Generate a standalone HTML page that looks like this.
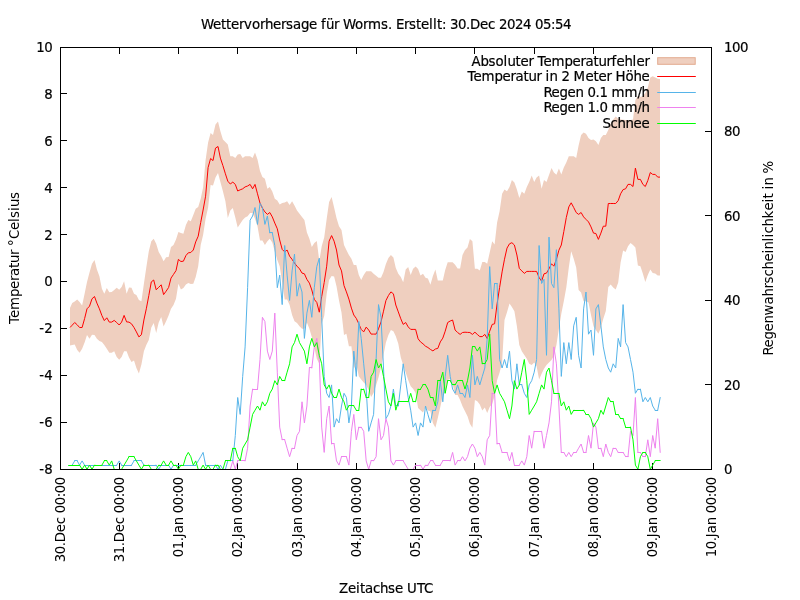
<!DOCTYPE html>
<html lang="de"><head><meta charset="utf-8"><title>Wettervorhersage für Worms</title>
<style>
html,body{margin:0;padding:0;background:#fff;}
body{width:800px;height:600px;overflow:hidden;}
svg{display:block;}
text{font-family:"DejaVu Sans","Liberation Sans",sans-serif;font-size:13.333px;fill:#000;white-space:pre;}
.h{stroke:#000;stroke-width:0.2px;}
</style></head><body>
<svg width="800" height="600" viewBox="0 0 800 600">
<rect width="800" height="600" fill="#fff"/>
<polygon points="70.0,308.1 72.2,303.1 74.7,301.5 77.2,299.4 79.6,302.0 82.1,305.6 84.6,293.8 87.0,281.9 89.5,272.5 92.0,263.8 94.5,260.0 96.9,269.4 99.4,276.2 101.9,288.8 104.3,293.8 106.8,288.1 109.3,292.2 111.7,291.9 114.2,290.0 116.7,287.8 119.2,289.8 121.6,286.9 124.1,281.2 126.6,293.8 129.0,287.5 131.5,287.8 134.0,293.8 136.4,295.0 138.9,300.0 141.4,301.2 143.9,283.8 146.3,267.5 148.8,251.2 151.3,241.2 153.7,238.8 156.2,243.8 158.7,251.9 161.2,256.2 163.6,261.2 166.1,257.2 168.6,256.9 171.0,246.9 173.5,245.0 176.0,239.4 178.4,231.9 180.9,233.1 183.4,233.8 185.9,225.0 188.3,220.0 190.8,221.2 193.3,215.0 195.7,208.8 198.2,206.9 200.7,198.8 203.1,187.5 205.6,160.0 208.1,142.5 210.6,133.1 213.0,135.0 215.5,124.4 218.0,121.5 220.4,131.2 222.9,139.4 225.4,141.9 227.8,144.4 230.3,156.2 232.8,156.2 235.3,158.1 237.7,154.4 240.2,154.1 242.7,158.1 245.1,156.2 247.6,156.2 250.1,156.2 252.6,158.1 255.0,152.5 257.5,159.4 260.0,170.9 262.4,176.9 264.9,178.8 267.4,188.8 269.8,186.9 272.3,191.6 274.8,198.8 277.3,200.6 279.7,204.4 282.2,203.1 284.7,202.5 287.1,201.2 289.6,205.0 292.1,201.2 294.5,205.6 297.0,210.6 299.5,213.8 302.0,216.9 304.4,220.0 306.9,232.5 309.4,238.8 311.8,246.9 314.3,243.1 316.8,241.0 319.3,261.2 321.7,246.2 324.2,237.5 326.7,218.8 329.1,201.9 331.6,196.9 334.1,207.5 336.5,218.1 339.0,226.2 341.5,230.0 344.0,245.0 346.4,250.0 348.9,255.0 351.4,258.8 353.8,265.0 356.3,265.0 358.8,275.0 361.2,280.0 363.7,275.0 366.2,271.2 368.7,271.2 371.1,271.2 373.6,273.8 376.1,275.8 378.5,277.7 381.0,277.7 383.5,271.9 385.9,264.1 388.4,258.1 390.9,255.0 393.4,257.5 395.8,268.1 398.3,273.8 400.8,276.9 403.2,282.2 405.7,269.4 408.2,266.9 410.7,275.0 413.1,268.8 415.6,266.5 418.1,269.1 420.5,275.6 423.0,273.8 425.5,277.8 427.9,278.4 430.4,284.7 432.9,275.9 435.4,269.4 437.8,280.6 440.3,280.6 442.8,280.6 445.2,270.0 447.7,262.2 450.2,262.2 452.6,262.2 455.1,264.7 457.6,268.6 460.1,268.6 462.5,255.0 465.0,250.0 467.5,247.5 469.9,239.0 472.4,241.2 474.9,268.8 477.3,268.8 479.8,270.6 482.3,261.9 484.8,261.9 487.2,263.8 489.7,252.5 492.2,241.2 494.6,244.4 497.1,222.5 499.6,211.2 502.1,193.8 504.5,189.4 507.0,191.2 509.5,186.9 511.9,180.0 514.4,182.5 516.9,189.4 519.3,198.1 521.8,191.5 524.3,193.8 526.8,186.9 529.2,181.9 531.7,175.6 534.2,181.9 536.6,177.5 539.1,175.6 541.6,188.8 544.0,180.0 546.5,181.9 549.0,175.0 551.5,168.1 553.9,172.5 556.4,174.8 558.9,168.5 561.3,174.4 563.8,167.5 566.3,162.5 568.8,156.2 571.2,156.2 573.7,156.2 576.2,158.1 578.6,145.6 581.1,135.0 583.6,132.5 586.0,133.8 588.5,138.1 591.0,140.0 593.5,139.4 595.9,141.2 598.4,145.0 600.9,138.1 603.3,135.0 605.8,135.0 608.3,130.0 610.7,123.4 613.2,119.4 615.7,116.5 618.2,118.8 620.6,119.5 623.1,119.8 625.6,120.0 628.0,120.0 630.5,120.0 633.0,119.5 635.4,100.0 637.9,96.0 640.4,97.0 642.9,96.0 645.3,93.0 647.8,87.5 650.3,77.4 652.7,76.2 655.2,77.5 657.7,78.8 660.0,79.0 660.0,275.6 657.7,275.6 655.2,273.5 652.7,273.1 650.3,269.4 647.8,275.0 645.3,281.9 642.9,273.8 640.4,266.2 637.9,265.6 635.4,247.5 633.0,245.0 630.5,243.1 628.0,246.2 625.6,251.9 623.1,250.6 620.6,262.5 618.2,282.5 615.7,289.4 613.2,287.5 610.7,284.4 608.3,286.9 605.8,310.9 603.3,318.8 600.9,327.5 598.4,333.8 595.9,330.0 593.5,326.2 591.0,315.0 588.5,302.5 586.0,301.2 583.6,301.2 581.1,292.5 578.6,290.0 576.2,267.5 573.7,258.8 571.2,251.2 568.8,267.5 566.3,287.5 563.8,301.2 561.3,313.8 558.9,328.8 556.4,345.0 553.9,355.7 551.5,360.0 549.0,362.5 546.5,365.0 544.0,368.8 541.6,373.8 539.1,379.4 536.6,366.2 534.2,362.5 531.7,365.0 529.2,363.8 526.8,358.8 524.3,355.0 521.8,351.2 519.3,345.0 516.9,326.2 514.4,311.2 511.9,306.9 509.5,303.4 507.0,312.2 504.5,320.0 502.1,362.5 499.6,372.5 497.1,380.0 494.6,395.9 492.2,403.8 489.7,406.9 487.2,413.1 484.8,407.5 482.3,410.6 479.8,404.4 477.3,401.2 474.9,400.0 472.4,427.8 469.9,423.8 467.5,416.2 465.0,411.2 462.5,406.2 460.1,400.0 457.6,395.0 455.1,395.0 452.6,383.8 450.2,378.8 447.7,380.0 445.2,392.5 442.8,395.0 440.3,406.9 437.8,418.1 435.4,427.8 432.9,423.1 430.4,411.2 427.9,410.6 425.5,406.9 423.0,412.5 420.5,410.2 418.1,408.1 415.6,393.1 413.1,388.8 410.7,386.2 408.2,380.0 405.7,372.5 403.2,365.0 400.8,357.5 398.3,343.8 395.8,336.2 393.4,331.2 390.9,330.0 388.4,335.0 385.9,342.5 383.5,355.0 381.0,367.5 378.5,377.5 376.1,385.0 373.6,393.1 371.1,396.9 368.7,390.0 366.2,385.0 363.7,382.5 361.2,379.4 358.8,376.2 356.3,363.8 353.8,368.8 351.4,346.2 348.9,346.2 346.4,333.8 344.0,335.0 341.5,312.5 339.0,300.6 336.5,286.2 334.1,276.4 331.6,276.0 329.1,280.0 326.7,293.8 324.2,315.9 321.7,323.8 319.3,363.8 316.8,358.8 314.3,347.5 311.8,336.9 309.4,328.8 306.9,322.5 304.4,328.8 302.0,328.8 299.5,326.2 297.0,323.1 294.5,321.2 292.1,315.0 289.6,305.0 287.1,299.4 284.7,299.4 282.2,282.5 279.7,266.2 277.3,260.0 274.8,251.6 272.3,242.5 269.8,238.8 267.4,241.2 264.9,245.0 262.4,240.6 260.0,240.6 257.5,226.2 255.0,218.8 252.6,213.1 250.1,213.1 247.6,216.2 245.1,217.5 242.7,220.0 240.2,223.8 237.7,227.5 235.3,217.5 232.8,208.1 230.3,210.6 227.8,218.1 225.4,201.2 222.9,191.2 220.4,181.9 218.0,173.1 215.5,177.5 213.0,185.6 210.6,185.0 208.1,207.5 205.6,218.8 203.1,235.0 200.7,245.0 198.2,266.2 195.7,276.9 193.3,283.8 190.8,284.1 188.3,283.1 185.9,284.4 183.4,288.1 180.9,289.4 178.4,283.8 176.0,298.8 173.5,305.0 171.0,308.8 168.6,315.6 166.1,321.2 163.6,326.6 161.2,316.9 158.7,322.5 156.2,333.1 153.7,323.1 151.3,327.5 148.8,340.0 146.3,345.0 143.9,351.2 141.4,364.4 138.9,373.5 136.4,368.1 134.0,360.6 131.5,361.9 129.0,357.5 126.6,351.2 124.1,351.2 121.6,356.9 119.2,359.8 116.7,356.9 114.2,351.2 111.7,352.8 109.3,352.8 106.8,348.8 104.3,345.0 101.9,341.9 99.4,341.0 96.9,338.8 94.5,335.0 92.0,334.8 89.5,338.8 87.0,335.0 84.6,342.5 82.1,348.8 79.6,352.8 77.2,350.0 74.7,344.4 72.2,345.0 70.0,345.6" fill="#efcfbf"/>
<rect x="657.7" y="57.7" width="37.5" height="6.6" fill="#efcfbf" stroke="#e3ab8f" stroke-width="1"/>
<path d="M60.5,469.5v-6.5M60.5,47.5v6.5M119.5,469.5v-6.5M119.5,47.5v6.5M178.5,469.5v-6.5M178.5,47.5v6.5M237.5,469.5v-6.5M237.5,47.5v6.5M297.5,469.5v-6.5M297.5,47.5v6.5M356.5,469.5v-6.5M356.5,47.5v6.5M415.5,469.5v-6.5M415.5,47.5v6.5M474.5,469.5v-6.5M474.5,47.5v6.5M534.5,469.5v-6.5M534.5,47.5v6.5M593.5,469.5v-6.5M593.5,47.5v6.5M652.5,469.5v-6.5M652.5,47.5v6.5M711.5,469.5v-6.5M711.5,47.5v6.5M60.5,47.5h6.5M60.5,93.5h6.5M60.5,140.5h6.5M60.5,187.5h6.5M60.5,234.5h6.5M60.5,281.5h6.5M60.5,328.5h6.5M60.5,375.5h6.5M60.5,422.5h6.5M60.5,469.5h6.5M711.5,469.5h-6.5M711.5,384.5h-6.5M711.5,300.5h-6.5M711.5,215.5h-6.5M711.5,131.5h-6.5M711.5,47.5h-6.5" stroke="#000" stroke-width="1" fill="none"/>
<text class="h" x="36.2 44.2" y="51.85">10</text>
<text class="h" x="44.2" y="98.85">8</text>
<text class="h" x="44.2" y="145.85">6</text>
<text class="h" x="44.2" y="192.85">4</text>
<text class="h" x="44.2" y="239.85">2</text>
<text class="h" x="44.2" y="285.85">0</text>
<text class="h" x="39.2 44.2" y="332.85">-2</text>
<text class="h" x="39.2 44.2" y="379.85">-4</text>
<text class="h" x="39.2 44.2" y="426.85">-6</text>
<text class="h" x="39.2 44.2" y="473.85">-8</text>
<text class="h" x="724" y="473.85">0</text>
<text class="h" x="724 732" y="389.85">20</text>
<text class="h" x="724 732" y="304.85">40</text>
<text class="h" x="724 732" y="220.85">60</text>
<text class="h" x="724 732" y="135.85">80</text>
<text class="h" x="724 732 740" y="51.85">100</text>
<text transform="translate(65.4,477.2) rotate(-90)" x="-85 -77 -69 -65 -55 -47 -40 -36 -28 -20 -16 -8" y="0">30.Dec 00:00</text>
<text transform="translate(124.4,477.2) rotate(-90)" x="-85 -77 -69 -65 -55 -47 -40 -36 -28 -20 -16 -8" y="0">31.Dec 00:00</text>
<text transform="translate(183.4,477.2) rotate(-90)" x="-80 -72 -64 -60 -56 -48 -40 -36 -28 -20 -16 -8" y="0">01.Jan 00:00</text>
<text transform="translate(242.4,477.2) rotate(-90)" x="-80 -72 -64 -60 -56 -48 -40 -36 -28 -20 -16 -8" y="0">02.Jan 00:00</text>
<text transform="translate(302.4,477.2) rotate(-90)" x="-80 -72 -64 -60 -56 -48 -40 -36 -28 -20 -16 -8" y="0">03.Jan 00:00</text>
<text transform="translate(361.4,477.2) rotate(-90)" x="-80 -72 -64 -60 -56 -48 -40 -36 -28 -20 -16 -8" y="0">04.Jan 00:00</text>
<text transform="translate(420.4,477.2) rotate(-90)" x="-80 -72 -64 -60 -56 -48 -40 -36 -28 -20 -16 -8" y="0">05.Jan 00:00</text>
<text transform="translate(479.4,477.2) rotate(-90)" x="-80 -72 -64 -60 -56 -48 -40 -36 -28 -20 -16 -8" y="0">06.Jan 00:00</text>
<text transform="translate(539.4,477.2) rotate(-90)" x="-80 -72 -64 -60 -56 -48 -40 -36 -28 -20 -16 -8" y="0">07.Jan 00:00</text>
<text transform="translate(598.4,477.2) rotate(-90)" x="-80 -72 -64 -60 -56 -48 -40 -36 -28 -20 -16 -8" y="0">08.Jan 00:00</text>
<text transform="translate(657.4,477.2) rotate(-90)" x="-80 -72 -64 -60 -56 -48 -40 -36 -28 -20 -16 -8" y="0">09.Jan 00:00</text>
<text transform="translate(716.4,477.2) rotate(-90)" x="-80 -72 -64 -60 -56 -48 -40 -36 -28 -20 -16 -8" y="0">10.Jan 00:00</text>
<text class="h" x="201 213 221 226 231 239 244 252 260 265 273 281 286 293 301 309 317 321 326 334 339 343 355 363 368 381 388 392 396 404 409 416 421 429 433 437 442 446 450 458 466 470 480 488 495 499 507 515 523 531 535 543 551 555 563" y="28.8">Wettervorhersage für Worms. Erstellt: 30.Dec 2024 05:54</text>
<text class="h" x="339 348 356 360 365 373 380 388 395 403 407 417 424" y="592.8">Zeitachse UTC</text>
<text transform="translate(19.2,258) rotate(-90)" x="-66 -60 -52 -39 -31 -23 -18 -10 -5 3 8 12 19 28 36 40 47 51 59" y="0">Temperatur °Celsius</text>
<text transform="translate(773.1,258) rotate(-90)" x="-97.5 -89.5 -81.5 -73.5 -65.5 -57.5 -46.5 -38.5 -30.5 -25.5 -18.5 -11.5 -3.5 4.5 8.5 16.5 20.5 24.5 31.5 39.5 47.5 55.5 59.5 64.5 68.5 72.5 80.5 84.5" y="0">Regenwahrscheinlichkeit in %</text>
<text class="h" x="471.6 480.6 488.6 495.6 503.6 507.6 515.6 520.6 528.6 533.6 537.6 543.6 551.6 564.6 572.6 580.6 585.6 593.6 598.6 606.6 611.6 616.6 624.6 632.6 636.6 644.6" y="65.8">Absoluter Temperaturfehler</text>
<text class="h" x="467.6 473.6 481.6 494.6 502.6 510.6 515.6 523.6 528.6 536.6 541.6 545.6 549.6 557.6 561.6 569.6 573.6 585.6 593.6 598.6 606.6 611.6 615.6 625.6 633.6 641.6" y="81.3">Temperatur in 2 Meter Höhe</text>
<path d="M657.2,76.5H695.8" stroke="#ff0000" stroke-width="1" fill="none"/>
<polyline points="70.0,327.5 72.2,325.2 74.7,322.5 77.2,324.8 79.6,327.5 82.1,327.5 84.6,318.6 87.0,308.8 89.5,306.2 92.0,298.8 94.5,296.5 96.9,303.1 99.4,308.8 101.9,315.6 104.3,320.6 106.8,317.8 109.3,322.1 111.7,322.1 114.2,320.4 116.7,322.5 119.2,325.0 121.6,322.1 124.1,315.4 126.6,321.9 129.0,322.1 131.5,323.8 134.0,327.5 136.4,331.9 138.9,336.9 141.4,334.7 143.9,320.0 146.3,308.8 148.8,295.6 151.3,281.9 153.7,280.0 156.2,289.8 158.7,287.3 161.2,284.8 163.6,294.6 166.1,291.2 168.6,287.5 171.0,278.1 173.5,274.4 176.0,270.6 178.4,259.4 180.9,261.5 183.4,261.2 185.9,255.6 188.3,252.8 190.8,252.5 193.3,250.0 195.7,241.9 198.2,236.2 200.7,222.5 203.1,210.0 205.6,196.2 208.1,167.5 210.6,158.5 213.0,160.6 215.5,148.1 218.0,146.5 220.4,158.1 222.9,165.6 225.4,173.8 227.8,181.2 230.3,184.0 232.8,182.1 235.3,184.4 237.7,191.0 240.2,189.8 242.7,188.8 245.1,186.9 247.6,186.0 250.1,184.4 252.6,188.8 255.0,184.4 257.5,193.8 260.0,203.1 262.4,208.1 264.9,211.9 267.4,214.4 269.8,212.5 272.3,216.9 274.8,223.1 277.3,228.8 279.7,240.0 282.2,249.4 284.7,251.9 287.1,250.0 289.6,256.2 292.1,259.4 294.5,263.1 297.0,266.2 299.5,268.8 302.0,273.1 304.4,273.8 306.9,279.4 309.4,283.1 311.8,290.0 314.3,299.4 316.8,302.5 319.3,312.2 321.7,296.6 324.2,282.5 326.7,266.2 329.1,241.2 331.6,235.6 334.1,241.2 336.5,250.0 339.0,265.0 341.5,270.9 344.0,285.6 346.4,291.9 348.9,299.1 351.4,308.1 353.8,315.0 356.3,318.4 358.8,323.8 361.2,329.4 363.7,331.9 366.2,327.1 368.7,330.0 371.1,334.1 373.6,334.1 376.1,334.1 378.5,328.8 381.0,321.9 383.5,311.2 385.9,300.6 388.4,295.6 390.9,291.9 393.4,293.8 395.8,305.0 398.3,311.9 400.8,318.8 403.2,324.4 405.7,322.5 408.2,326.9 410.7,329.4 413.1,329.4 415.6,329.4 418.1,338.8 420.5,341.9 423.0,343.8 425.5,346.2 427.9,347.5 430.4,349.4 432.9,350.9 435.4,349.0 437.8,348.4 440.3,341.9 442.8,338.1 445.2,331.2 447.7,322.5 450.2,321.0 452.6,320.0 455.1,330.0 457.6,332.5 460.1,334.4 462.5,332.5 465.0,332.2 467.5,332.4 469.9,332.5 472.4,334.4 474.9,332.2 477.3,334.4 479.8,336.6 482.3,336.6 484.8,334.4 487.2,338.5 489.7,331.2 492.2,324.4 494.6,323.8 497.1,303.8 499.6,287.5 502.1,271.9 504.5,259.2 507.0,248.1 509.5,243.8 511.9,242.7 514.4,245.0 516.9,255.0 519.3,268.4 521.8,270.9 524.3,273.4 526.8,271.4 529.2,271.4 531.7,271.4 534.2,271.4 536.6,271.4 539.1,277.5 541.6,281.2 544.0,273.8 546.5,273.1 549.0,268.8 551.5,263.8 553.9,266.2 556.4,259.4 558.9,250.2 561.3,245.0 563.8,231.6 566.3,217.5 568.8,206.9 571.2,202.8 573.7,207.5 576.2,212.5 578.6,214.4 581.1,212.5 583.6,216.9 586.0,219.4 588.5,221.9 591.0,226.9 593.5,233.1 595.9,233.5 598.4,239.4 600.9,233.1 603.3,226.2 605.8,226.2 608.3,203.5 610.7,203.5 613.2,203.5 615.7,203.5 618.2,200.6 620.6,193.8 623.1,189.6 625.6,188.8 628.0,184.4 630.5,184.4 633.0,186.5 635.4,168.1 637.9,179.4 640.4,179.4 642.9,184.4 645.3,186.5 647.8,180.6 650.3,172.5 652.7,174.4 655.2,174.4 657.7,177.1 660.0,177.1" stroke="#ff0000" stroke-width="1" fill="none" stroke-linejoin="round"/>
<text class="h" x="543.6 551.6 559.6 567.6 575.6 583.6 587.6 595.6 599.6 607.6 611.6 624.6 637.6 641.6" y="97.3">Regen 0.1 mm/h</text>
<path d="M657.2,92.5H695.8" stroke="#56b4e9" stroke-width="1" fill="none"/>
<path d="M68.7,465.5L69.8,465.5M69.8,465.5L72.2,465.5M72.2,465.1L74.7,460.9M74.7,460.5L77.2,460.5M77.2,460.9L79.6,465.1L82.1,460.9L84.6,465.1M84.6,465.5L87.0,465.5M87.0,465.5L89.5,465.5M89.5,465.5L92.0,465.5M92.0,465.5L94.5,465.5M94.5,465.5L96.9,465.5M96.9,465.5L99.4,465.5M99.4,465.5L101.9,465.5M101.9,465.5L104.3,465.5M104.3,465.5L106.8,465.5M106.8,465.5L109.3,465.5M109.3,465.5L111.7,465.5M111.7,465.5L114.2,465.5M114.2,465.5L116.7,465.5M116.7,465.1L119.2,460.9L121.6,465.1M121.6,465.5L124.1,465.5M124.1,465.5L126.6,465.5M126.6,465.5L129.0,465.5M129.0,465.5L131.5,465.5M131.5,465.1L134.0,460.9M134.0,460.5L136.4,460.5M136.4,460.5L138.9,460.5M138.9,460.5L141.4,460.5M141.4,460.9L143.9,465.1M143.9,465.5L146.3,465.5M146.3,465.5L148.8,465.5M148.8,465.5L151.3,465.5M151.3,465.5L153.7,465.5M153.7,465.5L156.2,465.5M156.2,465.1L158.7,469.3L161.2,465.1M161.2,465.5L163.6,465.5M163.6,465.5L166.1,465.5M166.1,465.5L168.6,465.5M168.6,465.1L171.0,469.3L173.5,465.1M173.5,465.5L176.0,465.5M176.0,465.5L178.4,465.5M178.4,465.5L180.9,465.5M180.9,465.5L183.4,465.5M183.4,465.5L185.9,465.5M185.9,465.5L188.3,465.5M188.3,465.5L190.8,465.5M190.8,465.5L193.3,465.5M193.3,465.5L195.7,465.5M195.7,465.1L198.2,460.9L200.7,456.7L203.1,452.4L205.6,465.1M205.6,465.5L208.1,465.5M208.1,465.5L210.6,465.5M210.6,465.5L213.0,465.5M213.0,465.5L215.5,465.5M215.5,465.1L218.0,469.3L220.4,465.1L222.9,469.3M222.9,469.5L225.4,469.5M225.4,469.3L227.8,460.9M227.8,460.5L230.3,460.5M230.3,460.5L232.8,460.5M232.8,460.9L235.3,435.5L237.7,397.5L240.2,414.4L242.7,376.4L245.1,346.9L247.6,287.7L250.1,220.2L252.6,216.0L255.0,207.5L257.5,224.4L260.0,203.3L262.4,207.5L264.9,224.4L267.4,216.0L269.8,232.9M269.8,232.5L272.3,232.5M272.3,232.9L274.8,245.5L277.3,287.7L279.7,275.1L282.2,304.6L284.7,245.5L287.1,275.1L289.6,300.4L292.1,270.9L294.5,254.0L297.0,296.2L299.5,283.5L302.0,292.0L304.4,338.4L306.9,313.1L309.4,300.4L311.8,317.3L314.3,287.7L316.8,266.6L319.3,258.2L321.7,317.3L324.2,376.4L326.7,393.3L329.1,397.5L331.6,384.9L334.1,427.1L336.5,418.7L339.0,422.9L341.5,406.0L344.0,393.3L346.4,397.5L348.9,422.9L351.4,406.0L353.8,351.1L356.3,376.4L358.8,321.5L361.2,338.4L363.7,363.8L366.2,389.1L368.7,431.3L371.1,422.9L373.6,414.4L376.1,359.5L378.5,304.6L381.0,317.3L383.5,368.0L385.9,418.7L388.4,414.4L390.9,406.0L393.4,389.1L395.8,406.0M395.8,405.5L398.3,405.5M398.3,406.0L400.8,384.9L403.2,363.8L405.7,380.7L408.2,397.5L410.7,410.2L413.1,427.1L415.6,422.9L418.1,435.5L420.5,422.9L423.0,427.1L425.5,406.0L427.9,414.4L430.4,422.9L432.9,410.2M432.9,410.5L435.4,410.5M435.4,410.2L437.8,401.8L440.3,380.7L442.8,401.8L445.2,376.4L447.7,355.3L450.2,376.4L452.6,389.1L455.1,393.3L457.6,384.9L460.1,393.3M460.1,393.5L462.5,393.5M462.5,393.3L465.0,397.5L467.5,384.9L469.9,397.5L472.4,355.3L474.9,384.9L477.3,376.4L479.8,384.9L482.3,376.4L484.8,368.0L487.2,338.4L489.7,266.6L492.2,308.9L494.6,283.5M494.6,283.5L497.1,283.5M497.1,283.5L499.6,359.5L502.1,368.0L504.5,359.5L507.0,368.0L509.5,351.1L511.9,380.7L514.4,389.1L516.9,363.8L519.3,384.9M519.3,384.5L521.8,384.5M521.8,384.9L524.3,393.3L526.8,397.5L529.2,384.9L531.7,380.7L534.2,372.2L536.6,359.5L539.1,245.5L541.6,283.5L544.0,279.3L546.5,355.3L549.0,237.1L551.5,283.5L553.9,287.7L556.4,249.7L558.9,308.9L561.3,376.4L563.8,342.6L566.3,363.8L568.8,342.6L571.2,359.5L573.7,325.8L576.2,317.3L578.6,355.3L581.1,368.0L583.6,308.9L586.0,292.0L588.5,334.2L591.0,330.0L593.5,355.3L595.9,308.9L598.4,304.6L600.9,325.8L603.3,346.9L605.8,359.5L608.3,368.0L610.7,372.2L613.2,363.8L615.7,368.0L618.2,338.4L620.6,346.9L623.1,304.6L625.6,342.6L628.0,346.9L630.5,359.5L633.0,372.2L635.4,393.3L637.9,389.1M637.9,389.5L640.4,389.5M640.4,389.1L642.9,401.8L645.3,397.5L647.8,401.8L650.3,397.5L652.7,406.0L655.2,410.2M655.2,410.5L657.7,410.5M657.7,410.2L660.2,397.5" stroke="#56b4e9" stroke-width="1" fill="none" stroke-linejoin="round" stroke-linecap="round"/>
<text class="h" x="543.6 551.6 559.6 567.6 575.6 583.6 587.6 595.6 599.6 607.6 611.6 624.6 637.6 641.6" y="112.3">Regen 1.0 mm/h</text>
<path d="M657.2,107.5H695.8" stroke="#ee82ee" stroke-width="1" fill="none"/>
<path d="M68.7,469.5L69.8,469.5M69.8,469.5L72.2,469.5M72.2,469.5L74.7,469.5M74.7,469.5L77.2,469.5M77.2,469.5L79.6,469.5M79.6,469.5L82.1,469.5M82.1,469.5L84.6,469.5M84.6,469.5L87.0,469.5M87.0,469.5L89.5,469.5M89.5,469.5L92.0,469.5M92.0,469.5L94.5,469.5M94.5,469.5L96.9,469.5M96.9,469.5L99.4,469.5M99.4,469.5L101.9,469.5M101.9,469.5L104.3,469.5M104.3,469.5L106.8,469.5M106.8,469.5L109.3,469.5M109.3,469.5L111.7,469.5M111.7,469.5L114.2,469.5M114.2,469.5L116.7,469.5M116.7,469.5L119.2,469.5M119.2,469.5L121.6,469.5M121.6,469.5L124.1,469.5M124.1,469.5L126.6,469.5M126.6,469.5L129.0,469.5M129.0,469.5L131.5,469.5M131.5,469.5L134.0,469.5M134.0,469.5L136.4,469.5M136.4,469.5L138.9,469.5M138.9,469.5L141.4,469.5M141.4,469.5L143.9,469.5M143.9,469.5L146.3,469.5M146.3,469.5L148.8,469.5M148.8,469.5L151.3,469.5M151.3,469.5L153.7,469.5M153.7,469.5L156.2,469.5M156.2,469.5L158.7,469.5M158.7,469.5L161.2,469.5M161.2,469.5L163.6,469.5M163.6,469.5L166.1,469.5M166.1,469.5L168.6,469.5M168.6,469.5L171.0,469.5M171.0,469.5L173.5,469.5M173.5,469.5L176.0,469.5M176.0,469.5L178.4,469.5M178.4,469.5L180.9,469.5M180.9,469.5L183.4,469.5M183.4,469.5L185.9,469.5M185.9,469.5L188.3,469.5M188.3,469.5L190.8,469.5M190.8,469.5L193.3,469.5M193.3,469.5L195.7,469.5M195.7,469.5L198.2,469.5M198.2,469.5L200.7,469.5M200.7,469.5L203.1,469.5M203.1,469.5L205.6,469.5M205.6,469.5L208.1,469.5M208.1,469.5L210.6,469.5M210.6,469.5L213.0,469.5M213.0,469.5L215.5,469.5M215.5,469.5L218.0,469.5M218.0,469.5L220.4,469.5M220.4,469.5L222.9,469.5M222.9,469.5L225.4,469.5M225.4,469.5L227.8,469.5M227.8,469.5L230.3,469.5M230.3,469.3L232.8,460.9L235.3,469.3L237.7,460.9M237.7,460.5L240.2,460.5M240.2,460.5L242.7,460.5M242.7,460.5L245.1,460.5M245.1,460.9L247.6,448.2L250.1,406.0L252.6,389.1M252.6,389.5L255.0,389.5M255.0,389.5L257.5,389.5M257.5,389.1L260.0,359.5L262.4,317.3L264.9,321.5L267.4,351.1L269.8,359.5L272.3,351.1L274.8,313.1L277.3,372.2L279.7,427.1L282.2,439.8M282.2,439.5L284.7,439.5M284.7,439.8L287.1,448.2L289.6,456.7L292.1,448.2M292.1,448.5L294.5,448.5M294.5,448.2L297.0,435.5L299.5,431.3L302.0,401.8L304.4,422.9L306.9,406.0L309.4,368.0M309.4,367.5L311.8,367.5M311.8,368.0L314.3,346.9L316.8,338.4L319.3,359.5L321.7,427.1L324.2,452.4L326.7,418.7L329.1,406.0L331.6,444.0M331.6,443.5L334.1,443.5M334.1,444.0L336.5,460.9L339.0,465.1L341.5,456.7M341.5,456.5L344.0,456.5M344.0,456.5L346.4,456.5M346.4,456.7L348.9,465.1L351.4,431.3L353.8,414.4L356.3,439.8L358.8,427.1M358.8,427.5L361.2,427.5M361.2,427.1L363.7,431.3L366.2,460.9L368.7,469.3L371.1,460.9M371.1,460.5L373.6,460.5M373.6,460.9L376.1,456.7L378.5,418.7L381.0,439.8L383.5,435.5L385.9,418.7L388.4,427.1L390.9,460.9L393.4,465.1L395.8,460.9M395.8,460.5L398.3,460.5M398.3,460.5L400.8,460.5M400.8,460.5L403.2,460.5M403.2,460.9L405.7,465.1L408.2,469.3M408.2,469.5L410.7,469.5M410.7,469.5L413.1,469.5M413.1,469.3L415.6,465.1M415.6,465.5L418.1,465.5M418.1,465.5L420.5,465.5M420.5,465.1L423.0,469.3L425.5,465.1M425.5,465.5L427.9,465.5M427.9,465.1L430.4,460.9M430.4,460.5L432.9,460.5M432.9,460.9L435.4,465.1M435.4,465.5L437.8,465.5M437.8,465.5L440.3,465.5M440.3,465.1L442.8,460.9M442.8,460.5L445.2,460.5M445.2,460.5L447.7,460.5M447.7,460.5L450.2,460.5M450.2,460.9L452.6,452.4L455.1,465.1L457.6,460.9M457.6,460.5L460.1,460.5M460.1,460.9L462.5,456.7L465.0,460.9L467.5,456.7L469.9,448.2L472.4,444.0L474.9,448.2L477.3,456.7L479.8,452.4L482.3,456.7L484.8,465.1L487.2,439.8L489.7,435.5L492.2,393.3M492.2,393.5L494.6,393.5M494.6,393.3L497.1,444.0M497.1,443.5L499.6,443.5M499.6,444.0L502.1,452.4M502.1,452.5L504.5,452.5M504.5,452.5L507.0,452.5M507.0,452.4L509.5,460.9L511.9,452.4L514.4,465.1M514.4,465.5L516.9,465.5M516.9,465.5L519.3,465.5M519.3,465.1L521.8,460.9L524.3,465.1L526.8,456.7L529.2,435.5L531.7,448.2L534.2,431.3M534.2,431.5L536.6,431.5M536.6,431.5L539.1,431.5M539.1,431.5L541.6,431.5M541.6,431.3L544.0,448.2L546.5,435.5L549.0,422.9L551.5,401.8L553.9,346.9L556.4,363.8L558.9,406.0L561.3,452.4M561.3,452.5L563.8,452.5M563.8,452.4L566.3,456.7L568.8,452.4L571.2,456.7L573.7,452.4M573.7,452.5L576.2,452.5M576.2,452.4L578.6,448.2L581.1,444.0L583.6,452.4M583.6,452.5L586.0,452.5M586.0,452.4L588.5,435.5L591.0,448.2L593.5,422.9L595.9,427.1L598.4,448.2M598.4,448.5L600.9,448.5M600.9,448.2L603.3,456.7L605.8,444.0L608.3,452.4L610.7,456.7L613.2,448.2M613.2,448.5L615.7,448.5M615.7,448.2L618.2,452.4M618.2,452.5L620.6,452.5M620.6,452.5L623.1,452.5M623.1,452.4L625.6,456.7M625.6,456.5L628.0,456.5M628.0,456.7L630.5,431.3L633.0,435.5L635.4,397.5L637.9,452.4M637.9,452.5L640.4,452.5M640.4,452.4L642.9,456.7M642.9,456.5L645.3,456.5M645.3,456.7L647.8,439.8L650.3,456.7L652.7,435.5L655.2,448.2L657.7,418.7L660.2,452.4" stroke="#ee82ee" stroke-width="1" fill="none" stroke-linejoin="round" stroke-linecap="round"/>
<text class="h" x="602.6 610.6 617.6 625.6 633.6 641.6" y="128.3">Schnee</text>
<path d="M657.2,123.5H695.8" stroke="#00ff00" stroke-width="1" fill="none"/>
<path d="M68.7,465.5L69.8,465.5M69.8,465.5L72.2,465.5M72.2,465.5L74.7,465.5M74.7,465.5L77.2,465.5M77.2,465.5L79.6,465.5M79.6,465.1L82.1,469.3L84.6,465.1L87.0,469.3L89.5,465.1L92.0,469.3L94.5,465.1M94.5,465.5L96.9,465.5M96.9,465.5L99.4,465.5M99.4,465.5L101.9,465.5M101.9,465.1L104.3,460.9M104.3,460.5L106.8,460.5M106.8,460.9L109.3,465.1L111.7,460.9L114.2,469.3M114.2,469.5L116.7,469.5M116.7,469.5L119.2,469.5M119.2,469.5L121.6,469.5M121.6,469.3L124.1,465.1L126.6,460.9L129.0,456.7M129.0,456.5L131.5,456.5M131.5,456.5L134.0,456.5M134.0,456.7L136.4,460.9L138.9,465.1L141.4,469.3L143.9,465.1M143.9,465.5L146.3,465.5M146.3,465.5L148.8,465.5M148.8,465.1L151.3,469.3M151.3,469.5L153.7,469.5M153.7,469.5L156.2,469.5M156.2,469.3L158.7,465.1M158.7,465.5L161.2,465.5M161.2,465.1L163.6,460.9L166.1,465.1M166.1,465.5L168.6,465.5M168.6,465.1L171.0,460.9L173.5,465.1M173.5,465.5L176.0,465.5M176.0,465.1L178.4,469.3L180.9,465.1M180.9,465.5L183.4,465.5M183.4,465.1L185.9,456.7L188.3,452.4L190.8,456.7L193.3,465.1L195.7,460.9L198.2,469.3M198.2,469.5L200.7,469.5M200.7,469.3L203.1,465.1L205.6,469.3L208.1,465.1L210.6,469.3M210.6,469.5L213.0,469.5M213.0,469.3L215.5,465.1M215.5,465.5L218.0,465.5M218.0,465.1L220.4,469.3M220.4,469.5L222.9,469.5M222.9,469.3L225.4,460.9M225.4,460.5L227.8,460.5M227.8,460.5L230.3,460.5M230.3,460.9L232.8,448.2M232.8,448.5L235.3,448.5M235.3,448.2L237.7,456.7L240.2,460.9L242.7,448.2L245.1,444.0L247.6,439.8L250.1,427.1L252.6,414.4L255.0,410.2L257.5,406.0L260.0,410.2L262.4,401.8L264.9,406.0L267.4,401.8L269.8,393.3L272.3,389.1L274.8,380.7L277.3,384.9L279.7,376.4L282.2,380.7M282.2,380.5L284.7,380.5M284.7,380.7L287.1,372.2L289.6,363.8L292.1,346.9L294.5,342.6L297.0,334.2L299.5,342.6L302.0,346.9L304.4,351.1L306.9,363.8L309.4,346.9L311.8,338.4L314.3,346.9L316.8,342.6L319.3,355.3L321.7,363.8L324.2,384.9L326.7,389.1L329.1,384.9L331.6,393.3L334.1,397.5M334.1,397.5L336.5,397.5M336.5,397.5L339.0,389.1L341.5,397.5L344.0,401.8L346.4,410.2L348.9,406.0M348.9,405.5L351.4,405.5M351.4,405.5L353.8,405.5M353.8,406.0L356.3,410.2M356.3,410.5L358.8,410.5M358.8,410.2L361.2,389.1M361.2,389.5L363.7,389.5M363.7,389.1L366.2,397.5M366.2,397.5L368.7,397.5M368.7,397.5L371.1,376.4L373.6,372.2L376.1,359.5L378.5,368.0L381.0,363.8L383.5,376.4L385.9,389.1L388.4,401.8L390.9,406.0L393.4,393.3L395.8,410.2L398.3,401.8M398.3,401.5L400.8,401.5M400.8,401.5L403.2,401.5M403.2,401.5L405.7,401.5M405.7,401.5L408.2,401.5M408.2,401.8L410.7,393.3L413.1,401.8M413.1,401.5L415.6,401.5M415.6,401.8L418.1,389.1M418.1,389.5L420.5,389.5M420.5,389.1L423.0,384.9M423.0,384.5L425.5,384.5M425.5,384.9L427.9,389.1L430.4,397.5M430.4,397.5L432.9,397.5M432.9,397.5L435.4,406.0L437.8,380.7M437.8,380.5L440.3,380.5M440.3,380.7L442.8,372.2L445.2,393.3L447.7,380.7M447.7,380.5L450.2,380.5M450.2,380.7L452.6,384.9M452.6,384.5L455.1,384.5M455.1,384.9L457.6,380.7M457.6,380.5L460.1,380.5M460.1,380.5L462.5,380.5M462.5,380.7L465.0,389.1L467.5,380.7L469.9,368.0L472.4,346.9M472.4,346.5L474.9,346.5M474.9,346.9L477.3,351.1L479.8,346.9L482.3,363.8M482.3,363.5L484.8,363.5M484.8,363.8L487.2,359.5L489.7,334.2L492.2,380.7L494.6,393.3L497.1,384.9L499.6,393.3L502.1,397.5L504.5,401.8L507.0,410.2L509.5,418.7L511.9,406.0L514.4,380.7L516.9,389.1L519.3,384.9L521.8,372.2L524.3,359.5L526.8,380.7L529.2,414.4L531.7,410.2L534.2,406.0L536.6,401.8L539.1,393.3L541.6,384.9L544.0,389.1L546.5,372.2L549.0,368.0L551.5,380.7L553.9,393.3M553.9,393.5L556.4,393.5M556.4,393.5L558.9,393.5M558.9,393.3L561.3,406.0L563.8,401.8L566.3,410.2L568.8,406.0L571.2,414.4L573.7,410.2M573.7,410.5L576.2,410.5M576.2,410.5L578.6,410.5M578.6,410.5L581.1,410.5M581.1,410.5L583.6,410.5M583.6,410.2L586.0,414.4M586.0,414.5L588.5,414.5M588.5,414.4L591.0,418.7L593.5,427.1L595.9,422.9L598.4,418.7L600.9,410.2L603.3,414.4L605.8,406.0L608.3,397.5L610.7,401.8M610.7,401.5L613.2,401.5M613.2,401.8L615.7,414.4M615.7,414.5L618.2,414.5M618.2,414.4L620.6,418.7M620.6,418.5L623.1,418.5M623.1,418.7L625.6,427.1M625.6,427.5L628.0,427.5M628.0,427.5L630.5,427.5M630.5,427.1L633.0,439.8L635.4,465.1L637.9,469.3L640.4,456.7L642.9,452.4M642.9,452.5L645.3,452.5M645.3,452.4L647.8,456.7L650.3,469.3L652.7,465.1L655.2,460.9M655.2,460.5L657.7,460.5M657.7,460.5L660.2,460.5" stroke="#00ff00" stroke-width="1" fill="none" stroke-linejoin="round" stroke-linecap="round"/>
<rect x="60.5" y="47.5" width="651.0" height="422.0" fill="none" stroke="#000" stroke-width="1"/>
</svg>
</body></html>
